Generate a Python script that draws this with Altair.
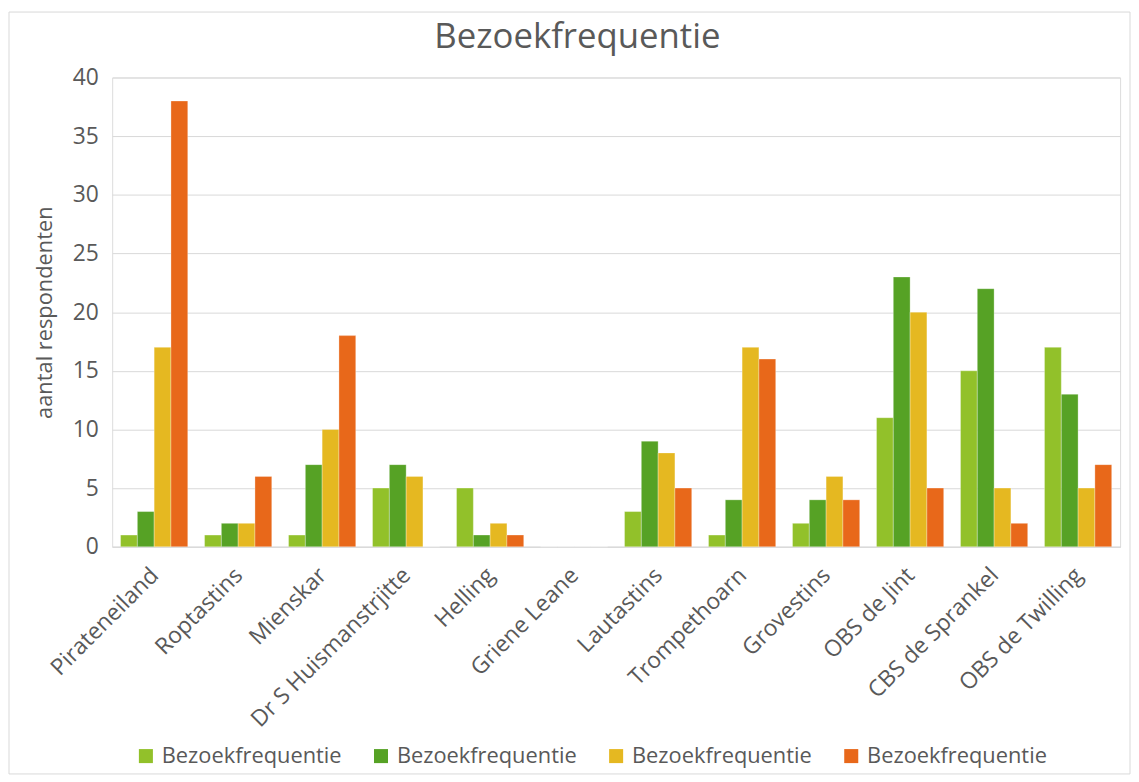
import altair as alt
import pandas as pd

categories = ["Pirateneiland", "Roptastins", "Mienskar", "Dr S Huismanstrjitte", "Helling",
              "Griene Leane", "Lautastins", "Trompethoarn", "Grovestins", "OBS de Jint",
              "CBS de Sprankel", "OBS de Twilling"]
series_keys = ["s1", "s2", "s3", "s4"]
series_label = "Bezoekfrequentie"
values_s1 = [1, 1, 1, 5, 5, 0, 3, 1, 2, 11, 15, 17]
values_s2 = [3, 2, 7, 7, 1, 0, 9, 4, 4, 23, 22, 13]
values_s3 = [17, 2, 10, 6, 2, 0, 8, 17, 6, 20, 5, 5]
values_s4 = [38, 6, 18, 0, 1, 0, 5, 16, 4, 5, 2, 7]
colors = ["#92C12A", "#56A225", "#E5B821", "#E8681A"]

rows = []
for key, vals in zip(series_keys, [values_s1, values_s2, values_s3, values_s4]):
    for c, v in zip(categories, vals):
        rows.append({"category": c, "series": key, "value": v})
df = pd.DataFrame(rows)

FONT = "Open Sans"
GRAY = "#595959"

bars = alt.Chart(df).mark_bar(stroke="white", strokeWidth=0.5, strokeOpacity=0.6).encode(
    x=alt.X("category:N", sort=categories,
            scale=alt.Scale(paddingInner=0.2, paddingOuter=0.1),
            axis=alt.Axis(title=None, labelAngle=-45, labelFontSize=23, labelColor=GRAY,
                          labelFont=FONT, ticks=False, domainColor="#d9d9d9",
                          labelPadding=17, labelLimit=400, labelOffset=-7)),
    xOffset=alt.XOffset("series:N", sort=series_keys, scale=alt.Scale(paddingInner=0)),
    y=alt.Y("value:Q", scale=alt.Scale(domain=[0, 40]),
            axis=alt.Axis(title="aantal respondenten", values=list(range(0, 41, 5)),
                          labelFontSize=23, labelColor=GRAY, labelFont=FONT,
                          titleFontSize=22, titleColor=GRAY, titleFont=FONT,
                          titleFontWeight="normal", titlePadding=16, labelPadding=14,
                          ticks=False, domain=False, gridColor="#d9d9d9")),
    color=alt.Color("series:N", sort=series_keys,
                    scale=alt.Scale(domain=series_keys, range=colors),
                    legend=alt.Legend(title=None, orient="none", direction="horizontal",
                                      legendX=23, legendY=673,
                                      labelExpr="'" + series_label + "'",
                                      symbolType="square", symbolSize=200,
                                      symbolStrokeWidth=0, labelFontSize=22,
                                      labelColor=GRAY, labelFont=FONT, labelLimit=400,
                                      columnPadding=28, labelOffset=5)),
)

frame = alt.Chart(pd.DataFrame({"a": [0]})).mark_rect(
    fill=None, stroke="#d9d9d9", strokeWidth=1
).encode(x=alt.value(-104), x2=alt.value(1026), y=alt.value(-66), y2=alt.value(702))

chart = alt.layer(frame, bars).properties(
    width=1016, height=473, padding=0,
    title=alt.TitleParams("Bezoekfrequentie", fontSize=35, font=FONT, color=GRAY,
                          fontWeight="normal", anchor="middle", dx=-39, offset=-44),
).configure_view(stroke=None).configure(background="white")

chart.save("out.html", embed_options={"renderer": "svg", "actions": False})
